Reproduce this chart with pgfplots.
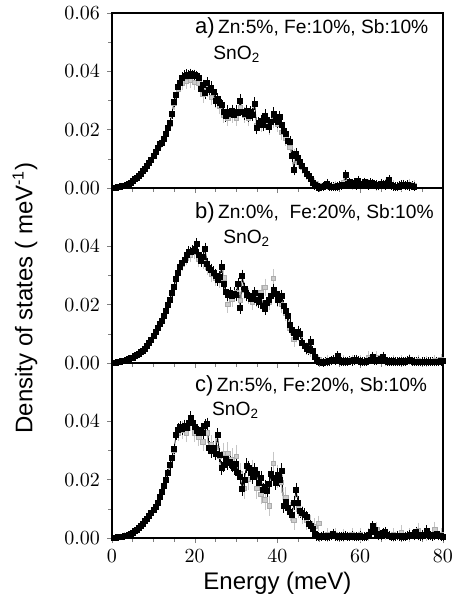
\documentclass[border=0pt]{standalone}
\usepackage{fontspec}
\setmainfont{Liberation Sans}
\usepackage{pgfplots}
\pgfplotsset{compat=1.18}

\pgfplotsset{
  dospanel/.style={
    scale only axis, width=165.5pt, height=87.5pt,
    xmin=0, xmax=80, ymin=0, ymax=0.06,
    tick pos=left, tick align=outside,
    major tick length=2.5pt, minor tick length=1.8pt,
    xtick={0,20,...,80}, minor x tick num=3,
    ytick={0,0.02,0.04}, minor y tick num=1,
    scaled y ticks=false,
    yticklabel style={/pgf/number format/fixed, /pgf/number format/fixed zerofill,
      /pgf/number format/precision=2},
    tick label style={font=\fontsize{10}{12}\selectfont},
    axis line style={line width=0.6pt},
    clip=false,
  },
  blk/.style={black, line width=0.35pt, mark=square*, mark size=1.25pt,
    mark options={fill=black, draw=black},
    error bars/.cd, y dir=both, y explicit,
    error bar style={black, line width=0.4pt},
    error mark options={black, mark size=1.3pt, line width=0.4pt}},
  gry/.style={only marks, mark=square*, mark size=1.1pt,
    mark options={fill=gray!40, draw=gray!65},
    error bars/.cd, y dir=both, y explicit,
    error bar style={gray!45, line width=0.4pt},
    error mark options={gray!45, mark size=1.3pt, line width=0.4pt}},
}
\newcommand{\lbl}[2]{{\fontsize{11}{12}\selectfont #1}\,{\fontsize{9.6}{11}\selectfont #2}}
\newcommand{\sno}{{\fontsize{9.6}{11}\selectfont SnO\textsubscript{2}}}

\begin{document}
\begin{tikzpicture}
\useasboundingbox (0,0) rectangle (227pt,-302.5pt);

% ---------------- a) ----------------
\begin{axis}[dospanel, at={(56pt,-94pt)}, anchor=south west,
  ytick={0,0.02,0.04,0.06}, xticklabels={}]
\addplot[gry] table[y error index=2] {
x y e
1 0.0002 0.0002
2 0.0005 0.0002
3 0.0009 0.0003
4 0.0015 0.0003
5 0.0024 0.0004
6 0.0036 0.0004
7 0.0050 0.0005
8 0.0066 0.0005
9 0.0085 0.0006
10 0.0110 0.0006
11 0.0136 0.0007
12 0.0154 0.0008
13 0.0183 0.0009
14 0.0220 0.0010
15 0.0290 0.0012
16 0.0340 0.0014
17 0.0360 0.0016
18 0.0365 0.0016
19 0.0368 0.0016
20 0.0362 0.0016
21 0.0360 0.0016
22 0.0320 0.0018
23 0.0340 0.0018
24 0.0310 0.0018
25 0.0300 0.0018
26 0.0280 0.0018
27 0.0250 0.0018
28 0.0240 0.0018
29 0.0250 0.0018
30 0.0240 0.0018
31 0.0275 0.0020
32 0.0250 0.0018
33 0.0238 0.0018
34 0.0255 0.0018
35 0.0215 0.0018
36 0.0220 0.0018
37 0.0225 0.0018
38 0.0210 0.0018
39 0.0232 0.0018
40 0.0220 0.0018
41 0.0190 0.0018
42 0.0170 0.0018
43 0.0140 0.0018
44 0.0110 0.0016
45 0.0090 0.0014
46 0.0070 0.0012
47 0.0050 0.0012
48 0.0030 0.0010
49 0.0015 0.0010
50 0.0008 0.0008
52 0.0010 0.0008
54 0.0008 0.0008
56 0.0020 0.0010
58 0.0012 0.0010
60 0.0015 0.0010
62 0.0012 0.0010
64 0.0010 0.0010
66 0.0012 0.0010
68 0.0008 0.0010
70 0.0010 0.0010
72 0.0012 0.0010
73 0.0008 0.0010
};
\addplot[blk] table[y error index=2] {
x y e
0.5 0.0001 0.0001
1.0 0.0002 0.0001
1.5 0.0003 0.0001
2.0 0.0005 0.0002
2.5 0.0007 0.0002
3.0 0.0009 0.0002
3.5 0.0012 0.0002
4.0 0.0015 0.0003
4.5 0.0019 0.0003
5.0 0.0024 0.0003
5.5 0.0030 0.0003
6.0 0.0036 0.0003
6.5 0.0043 0.0004
7.0 0.0050 0.0004
7.5 0.0058 0.0004
8.0 0.0066 0.0004
8.5 0.0075 0.0005
9.0 0.0085 0.0005
9.5 0.0097 0.0005
10.0 0.0110 0.0005
10.5 0.0124 0.0006
11.0 0.0138 0.0006
11.5 0.0150 0.0006
12.0 0.0156 0.0006
12.5 0.0168 0.0007
13.0 0.0185 0.0007
13.5 0.0205 0.0007
14.0 0.0222 0.0008
14.5 0.0255 0.0008
15.0 0.0295 0.0009
15.5 0.0318 0.0009
16.0 0.0348 0.0010
16.5 0.0362 0.0010
17.0 0.0378 0.0010
17.5 0.0385 0.0010
18.0 0.0388 0.0010
18.5 0.0386 0.0010
19.0 0.0390 0.0010
19.5 0.0384 0.0010
20.0 0.0387 0.0010
20.5 0.0383 0.0010
21.0 0.0376 0.0011
21.5 0.0340 0.0011
22.0 0.0352 0.0011
22.5 0.0325 0.0011
23.0 0.0360 0.0012
23.5 0.0338 0.0012
24.0 0.0345 0.0012
24.5 0.0330 0.0012
25.0 0.0300 0.0012
25.5 0.0305 0.0012
26.0 0.0292 0.0012
26.5 0.0285 0.0012
27.0 0.0262 0.0012
27.5 0.0248 0.0012
28.0 0.0262 0.0012
28.5 0.0255 0.0012
29.0 0.0265 0.0012
29.5 0.0250 0.0012
30.0 0.0262 0.0012
30.5 0.0258 0.0012
31.0 0.0300 0.0013
31.5 0.0262 0.0012
32.0 0.0255 0.0012
32.5 0.0265 0.0012
33.0 0.0248 0.0012
33.5 0.0260 0.0012
34.0 0.0252 0.0012
34.5 0.0290 0.0013
35.0 0.0205 0.0012
35.5 0.0222 0.0012
36.0 0.0230 0.0012
36.5 0.0215 0.0012
37.0 0.0248 0.0013
37.5 0.0232 0.0012
38.0 0.0210 0.0012
38.5 0.0228 0.0012
39.0 0.0255 0.0013
39.5 0.0232 0.0012
40.0 0.0226 0.0012
40.5 0.0243 0.0012
41.0 0.0218 0.0012
41.5 0.0195 0.0012
42.0 0.0185 0.0012
42.5 0.0160 0.0012
43.0 0.0158 0.0012
43.5 0.0110 0.0011
44.0 0.0062 0.0010
44.5 0.0118 0.0011
45.0 0.0102 0.0010
45.5 0.0088 0.0010
46.0 0.0075 0.0009
46.5 0.0062 0.0009
47.0 0.0050 0.0008
47.5 0.0040 0.0008
48.0 0.0030 0.0008
48.5 0.0018 0.0007
49.0 0.0010 0.0007
49.5 0.0006 0.0006
50.0 0.0002 0.0006
50.5 0.0003 0.0006
51.0 0.0005 0.0006
51.5 0.0008 0.0006
52.0 0.0015 0.0007
52.5 0.0006 0.0006
53.0 0.0004 0.0006
53.5 0.0005 0.0006
54.0 0.0003 0.0006
54.5 0.0006 0.0006
55.0 0.0008 0.0006
55.5 0.0010 0.0007
56.0 0.0012 0.0007
56.5 0.0045 0.0008
57.0 0.0015 0.0007
57.5 0.0020 0.0007
58.0 0.0012 0.0007
58.5 0.0018 0.0007
59.0 0.0010 0.0007
59.5 0.0025 0.0008
60.0 0.0015 0.0007
60.5 0.0012 0.0007
61.0 0.0020 0.0007
61.5 0.0015 0.0007
62.0 0.0010 0.0007
62.5 0.0018 0.0007
63.0 0.0015 0.0007
63.5 0.0012 0.0007
64.0 0.0010 0.0007
64.5 0.0008 0.0007
65.0 0.0015 0.0007
65.5 0.0012 0.0007
66.0 0.0010 0.0007
66.5 0.0015 0.0007
67.0 0.0028 0.0008
67.5 0.0010 0.0007
68.0 0.0006 0.0006
68.5 0.0005 0.0006
69.0 0.0004 0.0006
69.5 0.0008 0.0006
70.0 0.0010 0.0007
70.5 0.0012 0.0007
71.0 0.0008 0.0006
71.5 0.0010 0.0007
72.0 0.0006 0.0006
72.5 0.0008 0.0006
73.0 0.0005 0.0006
};
\node[anchor=base west, inner sep=0pt] at (axis cs:20.0,0.0531) {\lbl{a)}{Zn:5\%, Fe:10\%, Sb:10\%}};
\node[anchor=base west, inner sep=0pt] at (axis cs:24.4,0.0439) {\sno};
\end{axis}

% ---------------- b) ----------------
\begin{axis}[dospanel, at={(56pt,-181.5pt)}, anchor=south west, xticklabels={}]
\addplot[gry] table[y error index=2] {
x y e
1 0.0002 0.0002
2 0.0004 0.0002
3 0.0008 0.0003
4 0.0013 0.0003
5 0.0019 0.0004
6 0.0027 0.0004
7 0.0037 0.0005
8 0.0050 0.0005
9 0.0068 0.0006
10 0.0093 0.0006
11 0.0122 0.0007
12 0.0145 0.0008
13 0.0180 0.0009
14 0.0215 0.0010
15 0.0262 0.0012
16 0.0310 0.0014
17 0.0340 0.0016
18 0.0360 0.0016
19 0.0370 0.0016
20 0.0380 0.0016
21 0.0355 0.0018
22 0.0350 0.0018
23 0.0330 0.0018
24 0.0305 0.0018
25 0.0290 0.0018
26 0.0285 0.0018
27 0.0292 0.0020
28 0.0200 0.0018
29 0.0220 0.0018
30 0.0240 0.0018
31 0.0215 0.0018
32 0.0250 0.0020
33 0.0230 0.0018
34 0.0210 0.0018
35 0.0220 0.0018
36 0.0240 0.0018
37 0.0260 0.0020
38 0.0210 0.0018
39 0.0290 0.0022
40 0.0220 0.0018
41 0.0200 0.0018
42 0.0170 0.0018
43 0.0120 0.0016
44 0.0080 0.0016
45 0.0100 0.0016
46 0.0070 0.0014
47 0.0050 0.0012
48 0.0040 0.0012
49 0.0020 0.0010
50 0.0010 0.0010
52 0.0008 0.0010
54 0.0012 0.0010
56 0.0008 0.0010
58 0.0010 0.0010
60 0.0008 0.0010
62 0.0020 0.0012
64 0.0020 0.0012
66 0.0010 0.0010
68 0.0008 0.0010
70 0.0008 0.0010
72 0.0012 0.0010
74 0.0008 0.0010
76 0.0006 0.0010
78 0.0008 0.0010
79.5 0.0012 0.0010
};
\addplot[blk] table[y error index=2] {
x y e
0.5 0.0001 0.0001
1.0 0.0002 0.0001
1.5 0.0003 0.0001
2.0 0.0004 0.0002
2.5 0.0006 0.0002
3.0 0.0008 0.0002
3.5 0.0010 0.0002
4.0 0.0013 0.0003
4.5 0.0016 0.0003
5.0 0.0019 0.0003
5.5 0.0023 0.0003
6.0 0.0027 0.0003
6.5 0.0032 0.0004
7.0 0.0037 0.0004
7.5 0.0043 0.0004
8.0 0.0050 0.0004
8.5 0.0058 0.0005
9.0 0.0068 0.0005
9.5 0.0080 0.0005
10.0 0.0093 0.0005
10.5 0.0108 0.0006
11.0 0.0122 0.0006
11.5 0.0135 0.0006
12.0 0.0145 0.0006
12.5 0.0160 0.0007
13.0 0.0180 0.0007
13.5 0.0198 0.0007
14.0 0.0215 0.0008
14.5 0.0240 0.0008
15.0 0.0262 0.0009
15.5 0.0290 0.0009
16.0 0.0310 0.0010
16.5 0.0330 0.0010
17.0 0.0345 0.0010
17.5 0.0352 0.0010
18.0 0.0370 0.0010
18.5 0.0382 0.0010
19.0 0.0380 0.0010
19.5 0.0385 0.0010
20.0 0.0390 0.0011
20.5 0.0408 0.0011
21.0 0.0370 0.0011
21.5 0.0350 0.0011
22.0 0.0365 0.0011
22.5 0.0392 0.0012
23.0 0.0340 0.0012
23.5 0.0325 0.0012
24.0 0.0320 0.0012
24.5 0.0310 0.0012
25.0 0.0300 0.0012
25.5 0.0285 0.0012
26.0 0.0295 0.0012
26.5 0.0330 0.0013
27.0 0.0270 0.0012
27.5 0.0245 0.0012
28.0 0.0232 0.0012
28.5 0.0240 0.0012
29.0 0.0230 0.0012
29.5 0.0238 0.0012
30.0 0.0232 0.0012
30.5 0.0270 0.0013
31.0 0.0190 0.0012
31.5 0.0298 0.0013
32.0 0.0255 0.0012
32.5 0.0232 0.0012
33.0 0.0230 0.0012
33.5 0.0220 0.0012
34.0 0.0226 0.0012
34.5 0.0240 0.0012
35.0 0.0218 0.0012
35.5 0.0210 0.0012
36.0 0.0230 0.0012
36.5 0.0195 0.0012
37.0 0.0185 0.0012
37.5 0.0205 0.0012
38.0 0.0215 0.0012
38.5 0.0230 0.0012
39.0 0.0250 0.0013
39.5 0.0238 0.0012
40.0 0.0215 0.0012
40.5 0.0226 0.0012
41.0 0.0230 0.0012
41.5 0.0195 0.0012
42.0 0.0180 0.0012
42.5 0.0160 0.0012
43.0 0.0130 0.0011
43.5 0.0115 0.0011
44.0 0.0103 0.0011
44.5 0.0090 0.0010
45.0 0.0108 0.0011
45.5 0.0100 0.0010
46.0 0.0068 0.0010
46.5 0.0060 0.0009
47.0 0.0050 0.0009
47.5 0.0045 0.0009
48.0 0.0072 0.0010
48.5 0.0040 0.0008
49.0 0.0020 0.0007
49.5 0.0010 0.0007
50.0 0.0004 0.0006
50.5 0.0003 0.0006
51.0 0.0002 0.0006
51.5 0.0004 0.0006
52.0 0.0003 0.0006
52.5 0.0006 0.0006
53.0 0.0008 0.0006
53.5 0.0012 0.0007
54.0 0.0010 0.0007
54.5 0.0025 0.0008
55.0 0.0008 0.0006
55.5 0.0005 0.0006
56.0 0.0004 0.0006
56.5 0.0006 0.0006
57.0 0.0005 0.0006
57.5 0.0008 0.0006
58.0 0.0006 0.0006
58.5 0.0010 0.0007
59.0 0.0012 0.0007
59.5 0.0008 0.0006
60.0 0.0006 0.0006
60.5 0.0005 0.0006
61.0 0.0004 0.0006
61.5 0.0006 0.0006
62.0 0.0008 0.0006
62.5 0.0012 0.0007
63.0 0.0022 0.0008
63.5 0.0010 0.0007
64.0 0.0008 0.0006
64.5 0.0012 0.0007
65.0 0.0015 0.0007
65.5 0.0022 0.0008
66.0 0.0010 0.0007
66.5 0.0006 0.0006
67.0 0.0005 0.0006
67.5 0.0004 0.0006
68.0 0.0006 0.0006
68.5 0.0005 0.0006
69.0 0.0004 0.0006
69.5 0.0006 0.0006
70.0 0.0005 0.0006
70.5 0.0004 0.0006
71.0 0.0006 0.0006
71.5 0.0008 0.0006
72.0 0.0012 0.0007
72.5 0.0006 0.0006
73.0 0.0004 0.0006
73.5 0.0005 0.0006
74.0 0.0004 0.0006
74.5 0.0003 0.0006
75.0 0.0005 0.0006
75.5 0.0004 0.0006
76.0 0.0003 0.0006
76.5 0.0004 0.0006
77.0 0.0005 0.0006
77.5 0.0004 0.0006
78.0 0.0003 0.0006
78.5 0.0004 0.0006
79.0 0.0005 0.0006
79.5 0.0006 0.0006
80.0 0.0008 0.0006
};
\node[anchor=base west, inner sep=0pt] at (axis cs:20.0,0.0497) {\lbl{b)}{Zn:0\%,\ \ Fe:20\%, Sb:10\%}};
\node[anchor=base west, inner sep=0pt] at (axis cs:26.8,0.0411) {\sno};
\end{axis}

% ---------------- c) ----------------
\begin{axis}[dospanel, at={(56pt,-269pt)}, anchor=south west]
\addplot[gry] table[y error index=2] {
x y e
1 0.0002 0.0002
2 0.0004 0.0002
3 0.0007 0.0003
4 0.0012 0.0003
5 0.0019 0.0004
6 0.0028 0.0004
7 0.0041 0.0005
8 0.0058 0.0005
9 0.0076 0.0006
10 0.0095 0.0006
11 0.0122 0.0007
12 0.0158 0.0008
13 0.0198 0.0009
14 0.0250 0.0010
15 0.0300 0.0014
16 0.0360 0.0020
17 0.0370 0.0022
18 0.0360 0.0022
19 0.0400 0.0024
20 0.0360 0.0022
21 0.0345 0.0022
22 0.0330 0.0024
23 0.0360 0.0024
24 0.0320 0.0024
25 0.0310 0.0026
26 0.0280 0.0026
27 0.0290 0.0028
28 0.0290 0.0030
29 0.0270 0.0028
30 0.0280 0.0030
31 0.0220 0.0028
32 0.0170 0.0026
33 0.0200 0.0028
34 0.0230 0.0030
35 0.0170 0.0026
36 0.0150 0.0026
37 0.0130 0.0024
38 0.0110 0.0024
39 0.0255 0.0032
40 0.0210 0.0030
41 0.0190 0.0028
42 0.0140 0.0026
43 0.0090 0.0024
44 0.0060 0.0022
45 0.0100 0.0024
46 0.0080 0.0022
47 0.0060 0.0022
48 0.0050 0.0020
49 0.0040 0.0018
50 0.0050 0.0018
52 0.0010 0.0014
54 0.0012 0.0014
56 0.0008 0.0014
58 0.0012 0.0014
60 0.0010 0.0014
62 0.0012 0.0014
64 0.0030 0.0016
66 0.0015 0.0014
68 0.0010 0.0014
70 0.0020 0.0016
72 0.0010 0.0014
74 0.0025 0.0016
76 0.0012 0.0014
78 0.0030 0.0016
79.5 0.0012 0.0014
};
\addplot[blk] table[y error index=2] {
x y e
0.5 0.0001 0.0001
1.0 0.0002 0.0001
1.5 0.0003 0.0001
2.0 0.0004 0.0002
2.5 0.0005 0.0002
3.0 0.0007 0.0002
3.5 0.0009 0.0002
4.0 0.0012 0.0003
4.5 0.0015 0.0003
5.0 0.0019 0.0003
5.5 0.0023 0.0003
6.0 0.0028 0.0003
6.5 0.0034 0.0004
7.0 0.0041 0.0004
7.5 0.0050 0.0004
8.0 0.0058 0.0004
8.5 0.0067 0.0005
9.0 0.0076 0.0005
9.5 0.0085 0.0005
10.0 0.0095 0.0005
10.5 0.0108 0.0006
11.0 0.0122 0.0006
11.5 0.0140 0.0006
12.0 0.0158 0.0006
12.5 0.0180 0.0007
13.0 0.0198 0.0007
13.5 0.0222 0.0007
14.0 0.0250 0.0008
14.5 0.0275 0.0008
15.0 0.0305 0.0009
15.5 0.0355 0.0010
16.0 0.0372 0.0012
16.5 0.0380 0.0012
17.0 0.0375 0.0012
17.5 0.0385 0.0012
18.0 0.0378 0.0012
18.5 0.0395 0.0013
19.0 0.0412 0.0013
19.5 0.0395 0.0013
20.0 0.0380 0.0013
20.5 0.0368 0.0013
21.0 0.0362 0.0013
21.5 0.0372 0.0013
22.0 0.0360 0.0013
22.5 0.0385 0.0014
23.0 0.0390 0.0014
23.5 0.0310 0.0014
24.0 0.0298 0.0014
24.5 0.0310 0.0014
25.0 0.0290 0.0014
25.5 0.0352 0.0015
26.0 0.0285 0.0014
26.5 0.0240 0.0014
27.0 0.0250 0.0014
27.5 0.0270 0.0015
28.0 0.0258 0.0015
28.5 0.0262 0.0015
29.0 0.0250 0.0015
29.5 0.0240 0.0015
30.0 0.0255 0.0015
30.5 0.0225 0.0015
31.0 0.0210 0.0015
31.5 0.0168 0.0014
32.0 0.0200 0.0015
32.5 0.0248 0.0016
33.0 0.0240 0.0016
33.5 0.0225 0.0015
34.0 0.0210 0.0015
34.5 0.0232 0.0016
35.0 0.0220 0.0015
35.5 0.0190 0.0015
36.0 0.0205 0.0015
36.5 0.0165 0.0014
37.0 0.0175 0.0015
37.5 0.0160 0.0014
38.0 0.0185 0.0015
38.5 0.0220 0.0016
39.0 0.0205 0.0016
39.5 0.0190 0.0015
40.0 0.0215 0.0016
40.5 0.0200 0.0016
41.0 0.0230 0.0017
41.5 0.0110 0.0014
42.0 0.0125 0.0014
42.5 0.0105 0.0014
43.0 0.0090 0.0013
43.5 0.0080 0.0013
44.0 0.0120 0.0014
44.5 0.0165 0.0015
45.0 0.0120 0.0014
45.5 0.0092 0.0013
46.0 0.0085 0.0013
46.5 0.0080 0.0013
47.0 0.0072 0.0012
47.5 0.0050 0.0011
48.0 0.0042 0.0011
48.5 0.0030 0.0010
49.0 0.0015 0.0009
49.5 0.0008 0.0008
50.0 0.0004 0.0007
50.5 0.0006 0.0007
51.0 0.0008 0.0007
51.5 0.0005 0.0007
52.0 0.0004 0.0007
52.5 0.0006 0.0007
53.0 0.0008 0.0007
53.5 0.0015 0.0008
54.0 0.0006 0.0007
54.5 0.0004 0.0007
55.0 0.0005 0.0007
55.5 0.0006 0.0007
56.0 0.0004 0.0007
56.5 0.0008 0.0007
57.0 0.0006 0.0007
57.5 0.0005 0.0007
58.0 0.0008 0.0007
58.5 0.0006 0.0007
59.0 0.0004 0.0007
59.5 0.0006 0.0007
60.0 0.0008 0.0007
60.5 0.0005 0.0007
61.0 0.0004 0.0007
61.5 0.0006 0.0007
62.0 0.0012 0.0008
62.5 0.0020 0.0009
63.0 0.0040 0.0010
63.5 0.0028 0.0009
64.0 0.0015 0.0008
64.5 0.0008 0.0007
65.0 0.0010 0.0008
65.5 0.0018 0.0008
66.0 0.0020 0.0009
66.5 0.0012 0.0008
67.0 0.0008 0.0007
67.5 0.0006 0.0007
68.0 0.0005 0.0007
68.5 0.0006 0.0007
69.0 0.0008 0.0007
69.5 0.0006 0.0007
70.0 0.0005 0.0007
70.5 0.0004 0.0007
71.0 0.0006 0.0007
71.5 0.0008 0.0007
72.0 0.0010 0.0008
72.5 0.0012 0.0008
73.0 0.0008 0.0007
73.5 0.0020 0.0009
74.0 0.0008 0.0007
74.5 0.0006 0.0007
75.0 0.0010 0.0008
75.5 0.0012 0.0008
76.0 0.0025 0.0009
76.5 0.0010 0.0008
77.0 0.0008 0.0007
77.5 0.0006 0.0007
78.0 0.0010 0.0008
78.5 0.0014 0.0008
79.0 0.0008 0.0007
79.5 0.0006 0.0007
80.0 0.0005 0.0007
};
\node[anchor=base west, inner sep=0pt] at (axis cs:20.0,0.0504) {\lbl{c)}{Zn:5\%, Fe:20\%, Sb:10\%}};
\node[anchor=base west, inner sep=0pt] at (axis cs:24.1,0.0420) {\sno};
\end{axis}

\node[rotate=90, font=\fontsize{12}{14}\selectfont] at (12.5pt,-149pt) {Density of states ( meV\textsuperscript{-1})};
\node[font=\fontsize{12}{14}\selectfont] at (138.75pt,-291.5pt) {Energy (meV)};
\end{tikzpicture}
\end{document}
